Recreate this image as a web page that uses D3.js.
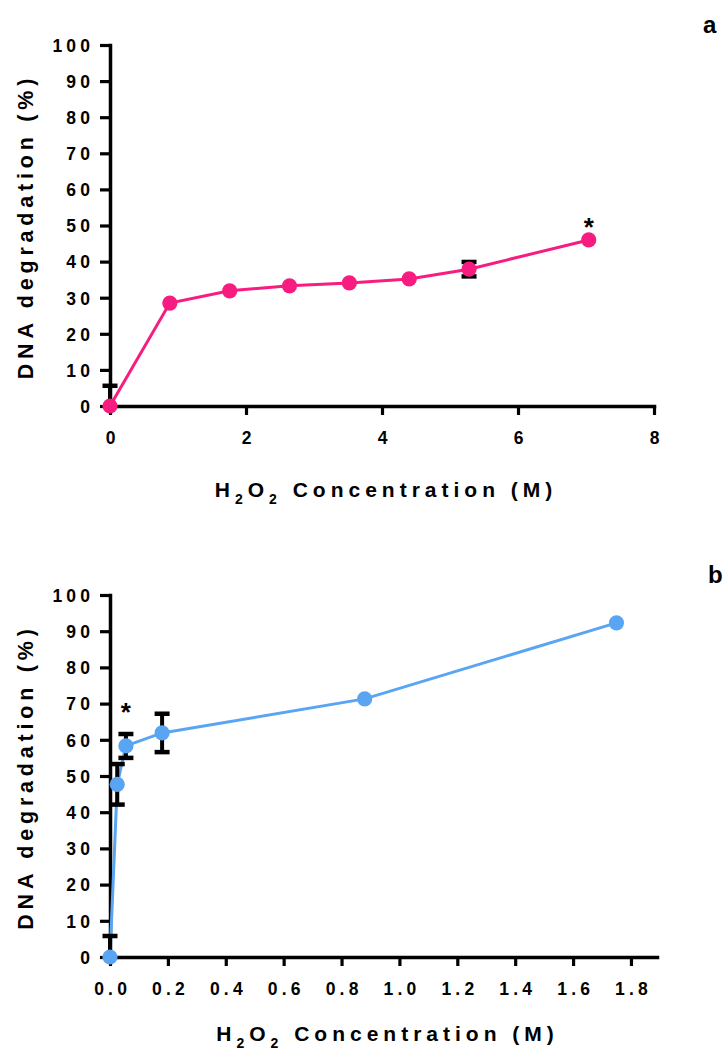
<!DOCTYPE html>
<html>
<head>
<meta charset="utf-8">
<script src="https://cdn.jsdelivr.net/npm/d3@7/dist/d3.min.js"></script>
<style>
  html, body { margin: 0; padding: 0; background: #fff; }
  svg text { font-family: "Liberation Sans", Arial, sans-serif; font-weight: bold; fill: #000; }
</style>
</head>
<body>
<svg id="chart" width="727" height="1055"></svg>
<script>
// Panel a: DNA degradation across the full H2O2 concentration range
const concA = [0, 0.88, 1.76, 2.64, 3.52, 4.40, 5.28, 7.04];
const degA  = [0, 28.5, 31.9, 33.3, 34.1, 35.2, 37.9, 46.0];
const errA  = [5.6, null, null, null, null, null, 2.0, null];
const starA = [false, false, false, false, false, false, false, true];
const xTicksA = [0, 2, 4, 6, 8];

// Panel b: DNA degradation at low H2O2 concentrations
const concB = [0, 0.025, 0.055, 0.18, 0.88, 1.75];
const degB  = [0, 47.7, 58.3, 61.9, 71.3, 92.3];
const errB  = [5.8, 5.6, 3.3, 5.3, null, null];
const starB = [false, false, true, false, false, false];
const xTicksB = [0, 0.2, 0.4, 0.6, 0.8, 1.0, 1.2, 1.4, 1.6, 1.8];

const yTicks = [0, 10, 20, 30, 40, 50, 60, 70, 80, 90, 100];
const yTitle = "DNA degradation  (%)";

const svg = d3.select("#chart");

function drawPanel(cfg) {
  const x = d3.scaleLinear().domain(cfg.xDomain).range([cfg.left, cfg.right]);
  const y = d3.scaleLinear().domain([0, 100]).range([cfg.bottom, cfg.top]);
  const g = svg.append("g");
  const ls = 4.2;

  // y axis
  const ya = g.append("g").attr("transform", `translate(${cfg.left},0)`)
    .call(d3.axisLeft(y).tickValues(yTicks).tickSize(10).tickSizeOuter(0).tickPadding(5.8));
  // x axis
  const xa = g.append("g").attr("transform", `translate(0,${cfg.bottom})`)
    .call(d3.axisBottom(x).tickValues(cfg.xTicks).tickSize(9).tickSizeOuter(0).tickFormat(cfg.fmt));

  [ya, xa].forEach(a => {
    a.select(".domain").attr("stroke", "#000").attr("stroke-width", 3.5).attr("stroke-linecap", "square");
    a.selectAll(".tick line").attr("stroke", "#000").attr("stroke-width", 3.2);
    a.selectAll(".tick text").style("font-size", "17.5px").style("letter-spacing", ls + "px");
  });
  ya.selectAll(".tick text").attr("dy", "0.36em");
  xa.selectAll(".tick text").attr("y", 26).attr("dx", ls / 2);

  // y axis title
  g.append("text")
    .attr("transform", `translate(33,${(cfg.top + cfg.bottom) / 2 + 1}) rotate(-90)`)
    .attr("text-anchor", "middle")
    .style("font-size", "21.5px").style("letter-spacing", "4.8px")
    .text(yTitle);

  // x axis title with subscripts
  const xt = g.append("text")
    .attr("x", (cfg.left + cfg.right) / 2 + 4)
    .attr("y", cfg.xTitleY)
    .attr("text-anchor", "middle")
    .style("font-size", "21px").style("letter-spacing", "5px");
  xt.append("tspan").text("H");
  xt.append("tspan").attr("dy", 7).style("font-size", "14px").text("2");
  xt.append("tspan").attr("dy", -7).text("O");
  xt.append("tspan").attr("dy", 7).style("font-size", "14px").text("2");
  xt.append("tspan").attr("dy", -7).text("  Concentration (M)");

  const pts = cfg.conc.map((c, i) => ({ c, v: cfg.deg[i], e: cfg.err[i], s: cfg.star[i] }));

  // connecting line
  g.append("path").datum(pts)
    .attr("fill", "none").attr("stroke", cfg.color).attr("stroke-width", 3)
    .attr("d", d3.line().x(d => x(d.c)).y(d => y(d.v)));

  // error bars (clipped at the x axis)
  const eb = g.append("g").attr("stroke", "#000").attr("stroke-width", 4);
  pts.filter(d => d.e != null).forEach(d => {
    const hi = d.v + d.e, lo = Math.max(0, d.v - d.e);
    const cx = x(d.c);
    eb.append("line").attr("x1", cx).attr("x2", cx).attr("y1", y(hi)).attr("y2", y(lo));
    eb.append("line").attr("x1", cx - 7.5).attr("x2", cx + 7.5).attr("y1", y(hi)).attr("y2", y(hi)).attr("stroke-width", 4.5);
    if (d.v - d.e > 0)
      eb.append("line").attr("x1", cx - 7.5).attr("x2", cx + 7.5).attr("y1", y(lo)).attr("y2", y(lo)).attr("stroke-width", 4.5);
  });

  // markers
  g.selectAll("circle.pt").data(pts).join("circle")
    .attr("cx", d => x(d.c)).attr("cy", d => y(d.v)).attr("r", 7.6)
    .attr("fill", cfg.color);

  // significance asterisks
  g.selectAll("text.star").data(pts.filter(d => d.s)).join("text")
    .attr("x", d => x(d.c)).attr("y", d => y(d.v + (d.e || 0)) - cfg.starGap)
    .attr("text-anchor", "middle").style("font-size", "26px")
    .text("*");

  // panel letter
  g.append("text").attr("x", cfg.letterX).attr("y", cfg.letterY)
    .style("font-size", "24px").text(cfg.letter);
}

drawPanel({
  conc: concA, deg: degA, err: errA, star: starA, xTicks: xTicksA,
  xDomain: [0, 8], fmt: d3.format("d"),
  left: 110, right: 654, top: 45, bottom: 406,
  xTitleY: 497, color: "#F71C80", starGap: 4,
  letter: "a", letterX: 703, letterY: 33
});

drawPanel({
  conc: concB, deg: degB, err: errB, star: starB, xTicks: xTicksB,
  xDomain: [0, 1.89], fmt: d3.format(".1f"),
  left: 110, right: 657, top: 595, bottom: 957,
  xTitleY: 1041, color: "#59A5F3", starGap: 13,
  letter: "b", letterX: 708, letterY: 583
});
</script>
</body>
</html>
